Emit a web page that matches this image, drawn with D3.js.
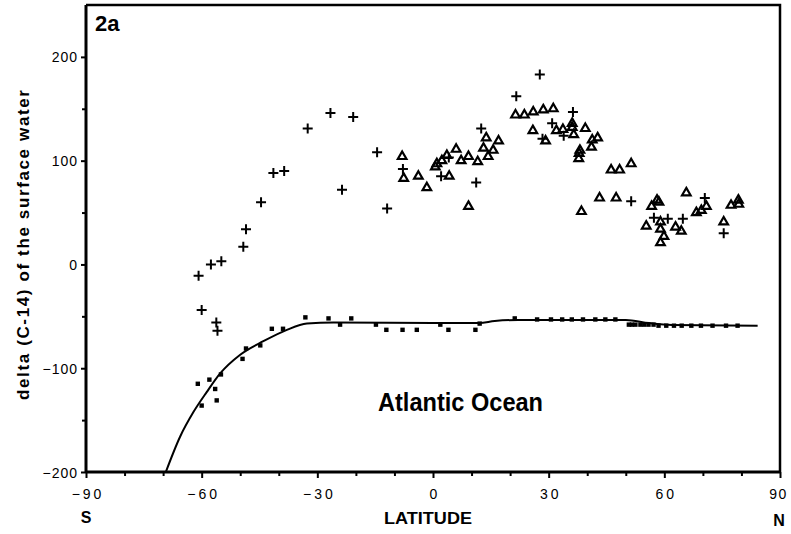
<!DOCTYPE html>
<html>
<head>
<meta charset="utf-8">
<script src="https://cdn.jsdelivr.net/npm/d3@7"></script>
<style>
  html, body { margin: 0; padding: 0; background: #fff; }
  svg { display: block; font-family: "Liberation Sans", Arial, Helvetica, sans-serif; }
</style>
</head>
<body>
<svg id="chart" width="791" height="534"></svg>
<script>
// ---- data ----
const crossLat = [-60.8, -60.0, -57.6, -56.2, -55.9, -54.9, -49.2, -48.5, -44.6, -41.4, -38.6, -32.5, -26.6, -23.6, -20.7, -14.5, -11.9, -7.8, 2.1, 4.1, 11.2, 12.5, 21.6, 27.7, 30.9, 28.4, 33.9, 36.3, 51.4, 57.3, 60.9, 64.8, 70.5, 75.4];
const crossVal = [-11, -44, 0, -56, -64, 3, 17, 34, 60, 88, 90, 131, 146, 72, 142, 108, 54, 92, 85, 103, 79, 131, 162, 183, 136, 121, 124, 147, 61, 45, 44, 44, 64, 30];

const triLat = [-8.0, -7.6, -3.8, -1.6, 0.6, 1.0, 2.3, 3.6, 4.2, 6.0, 7.3, 9.2, 9.2, 11.6, 13.1, 13.8, 14.3, 15.6, 17.0, 21.4, 23.7, 26.0, 28.6, 31.2, 25.9, 29.2, 32.0, 33.7, 36.1, 36.5, 36.1, 39.5, 41.3, 42.7, 41.1, 38.1, 37.9, 37.8, 46.2, 48.4, 51.4, 38.5, 43.2, 47.5, 56.7, 58.1, 58.6, 55.3, 59.0, 59.0, 59.9, 59.0, 62.9, 64.4, 65.7, 68.3, 69.6, 70.9, 75.4, 77.3, 79.2, 79.3];
const triVal = [104, 83, 85, 74, 94, 97, 100, 105, 85, 111, 100, 104, 56, 99, 112, 122, 104, 110, 119, 144, 144, 147, 149, 150, 129, 119, 129, 130, 136, 125, 132, 131, 120, 122, 113, 110, 107, 102, 91, 91, 97, 51, 64, 64, 56, 62, 60, 37, 41, 34, 27, 21, 36, 32, 69, 50, 52, 56, 41, 57, 62, 58];

const sqLat = [-61.0, -60.0, -58.0, -56.5, -56.1, -55.0, -49.4, -48.5, -44.8, -41.8, -38.9, -33.1, -27.1, -24.1, -21.2, -14.8, -12.1, -7.9, -4.2, 1.9, 4.0, 11.0, 12.1, 21.2, 27.0, 30.6, 33.5, 36.0, 38.9, 42.1, 44.7, 47.3, 50.8, 51.6, 52.5, 53.8, 54.8, 55.9, 57.2, 58.5, 60.5, 62.5, 64.5, 67.0, 69.5, 72.5, 76.0, 79.0];
const sqVal = [-115, -136, -111, -120, -131, -106, -91, -81, -78, -62, -62, -51, -52, -58, -52, -58, -63, -63, -63, -58, -63, -63, -57, -52, -53, -53, -53, -53, -53, -53, -53, -53, -58, -58, -58, -58, -58, -58, -58, -59, -59, -59, -59, -59, -59, -59, -59, -59];

const curveLat = [-69.3, -65.6, -62.1, -58.7, -55.2, -50.0, -44.0, -37.9, -32.7, -25.8, 0, 12, 16, 22, 50, 56, 62, 84.2];
const curveVal = [-200, -166, -142, -123, -105, -87, -74, -63, -57, -56, -56.5, -56.5, -54.5, -53.5, -53.5, -56.5, -58.3, -59];

const xMajorTicks = [-90, -60, -30, 0, 30, 60, 90];
const xMinorTicks = [-80, -70, -50, -40, -20, -10, 10, 20, 40, 50, 70, 80];
const yMajorTicks = [-200, -100, 0, 100, 200];
const yMinorTicks = [-150, -50, 50, 150];

// ---- layout ----
const svg = d3.select("#chart");
const pLeft = 86, pRight = 780, pTop = 5, pBottom = 472;
const x = d3.scaleLinear().domain([-90, 90]).range([pLeft, pRight]);
const y = d3.scaleLinear().domain([-200, 250]).range([pBottom, pTop]);

// frame (top and right)
svg.append("path")
  .attr("d", `M${pLeft},${pTop}H${pRight}V${pBottom}`)
  .attr("fill", "none").attr("stroke", "#000").attr("stroke-width", 2.5);

// x axis
const xAxis = svg.append("g").attr("transform", `translate(0,${pBottom})`)
  .call(d3.axisBottom(x).tickValues(xMajorTicks).tickSize(6).tickFormat(d3.format("d")));
svg.append("g").attr("transform", `translate(0,${pBottom})`)
  .call(d3.axisBottom(x).tickValues(xMinorTicks).tickSize(4).tickFormat(""))
  .call(g => g.select(".domain").remove());

// y axis
const yAxis = svg.append("g").attr("transform", `translate(${pLeft},0)`)
  .call(d3.axisLeft(y).tickValues(yMajorTicks).tickSize(5).tickFormat(d3.format("d")));
svg.append("g").attr("transform", `translate(${pLeft},0)`)
  .call(d3.axisLeft(y).tickValues(yMinorTicks).tickSize(4).tickFormat(""))
  .call(g => g.select(".domain").remove());

svg.selectAll(".domain").attr("stroke", "#000").attr("stroke-width", 3);
svg.selectAll(".tick line").attr("stroke", "#000").attr("stroke-width", 2);

xAxis.selectAll(".domain").attr("d", `M${pLeft},0H${pRight}`);
xAxis.selectAll("text")
  .attr("y", 27).attr("dy", 0)
  .attr("font-size", 14)
  .attr("letter-spacing", d => d === 90 ? "1.5px" : "3px")
  .attr("font-family", "Liberation Sans, Arial, sans-serif")
  .attr("fill", "#000")
  .attr("dx", d => d === 90 ? "-2px" : "1.5px");
yAxis.selectAll(".domain").attr("d", `M0,${pTop}V${pBottom}`);
yAxis.selectAll("text")
  .attr("x", -8).attr("dy", "0.36em")
  .attr("font-size", 14).attr("letter-spacing", "1px")
  .attr("font-family", "Liberation Sans, Arial, sans-serif")
  .attr("fill", "#000");

// axis labels
svg.append("text").attr("x", 86).attr("y", 523).attr("text-anchor", "middle")
  .attr("font-weight", "bold").attr("font-size", 16).text("S");
svg.append("text").attr("x", 779).attr("y", 526).attr("text-anchor", "middle")
  .attr("font-weight", "bold").attr("font-size", 16).text("N");
svg.append("text").attr("x", 428).attr("y", 524).attr("text-anchor", "middle")
  .attr("font-weight", "bold").attr("font-size", 16)
  .attr("textLength", 88).attr("lengthAdjust", "spacingAndGlyphs")
  .text("LATITUDE");
svg.append("text")
  .attr("transform", "translate(29,245) rotate(-90)")
  .attr("text-anchor", "middle")
  .attr("font-weight", "bold").attr("font-size", 17)
  .attr("textLength", 310).attr("lengthAdjust", "spacing")
  .text("delta (C-14) of the surface water");
svg.append("text").attr("x", 95).attr("y", 31)
  .attr("font-weight", "bold").attr("font-size", 22).text("2a");
svg.append("text").attr("x", 378).attr("y", 411)
  .attr("font-weight", "bold").attr("font-size", 25)
  .attr("textLength", 165).attr("lengthAdjust", "spacingAndGlyphs")
  .text("Atlantic Ocean");

// curve
const line = d3.line().x(d => x(d[0])).y(d => y(d[1])).curve(d3.curveMonotoneX);
svg.append("path")
  .datum(curveLat.map((d, i) => [d, curveVal[i]]))
  .attr("d", line).attr("fill", "none").attr("stroke", "#000").attr("stroke-width", 2);

// squares
svg.append("g").selectAll("rect")
  .data(sqLat.map((d, i) => [d, sqVal[i]]))
  .join("rect")
  .attr("x", d => x(d[0]) - 2.2).attr("y", d => y(d[1]) - 2.2)
  .attr("width", 4.4).attr("height", 4.4).attr("fill", "#000");

// triangles
const tri = d3.symbol().type(d3.symbolTriangle).size(32);
svg.append("g").selectAll("path")
  .data(triLat.map((d, i) => [d, triVal[i]]))
  .join("path")
  .attr("d", tri)
  .attr("transform", d => `translate(${x(d[0])},${y(d[1])})`)
  .attr("fill", "none").attr("stroke", "#000").attr("stroke-width", 2.2);

// crosses
svg.append("g").selectAll("path")
  .data(crossLat.map((d, i) => [d, crossVal[i]]))
  .join("path")
  .attr("d", "M-5,0H5M0,-5V5")
  .attr("transform", d => `translate(${x(d[0])},${y(d[1])})`)
  .attr("fill", "none").attr("stroke", "#000").attr("stroke-width", 2);
</script>
</body>
</html>
